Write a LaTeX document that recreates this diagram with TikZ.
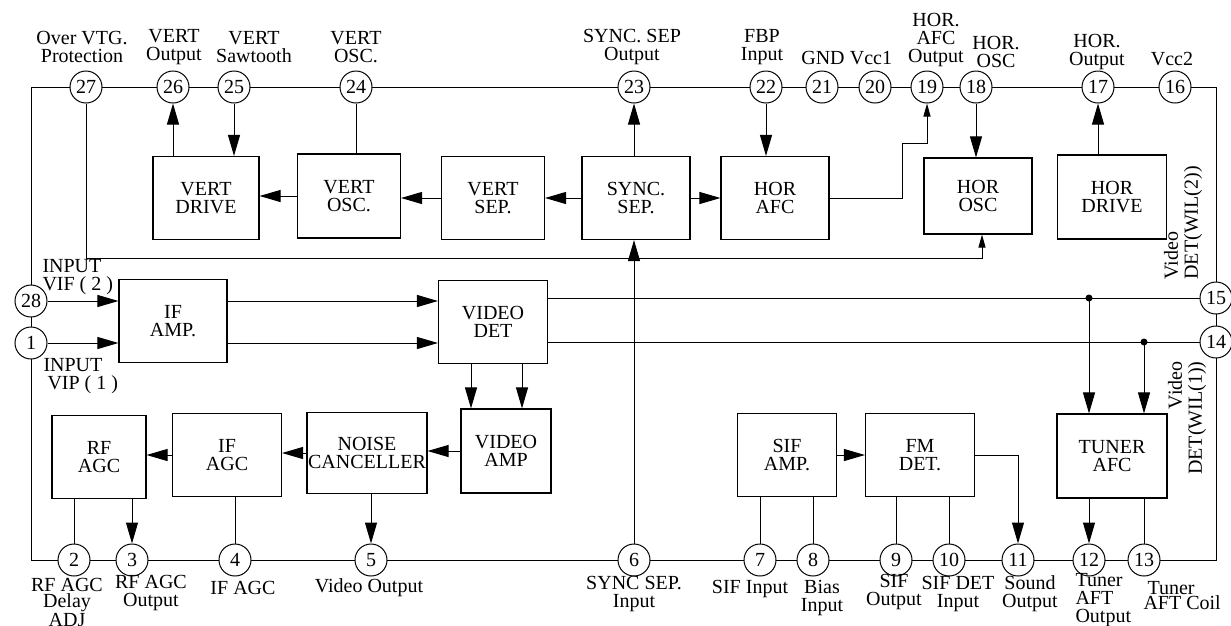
\documentclass[tikz,border=0pt]{standalone}
\usepackage{fontspec}
\setmainfont{Liberation Serif}
\usetikzlibrary{arrows.meta, positioning}

\begin{document}
\begin{tikzpicture}[
    x=1pt, y=-1pt,
    font=\fontsize{20}{18}\selectfont,
    line width=1pt,
    block/.style={
        draw,
        line width=1.1pt,
        align=center,
        minimum width=108pt,
        minimum height=83pt,
        inner sep=0pt
    },
    icpin/.style={
        draw,
        circle,
        fill=white,
        minimum size=32pt,
        inner sep=0pt
    },
    pintext/.style={
        align=center,
        inner sep=0pt
    },
    sidetext/.style={
        rotate=90,
        inner sep=0pt,
        font=\fontsize{20}{20}\selectfont
    },
    thinarrow/.style={-{Triangle[length=13pt,width=7pt]}},
    >={Triangle[length=21pt,width=12pt]}
]

\useasboundingbox (0,0) rectangle (1231,625);

\coordinate (frametl) at (31,87);
\coordinate (framebr) at (1216,560);
\draw (frametl) rectangle (framebr);

% pins
\node[icpin] (pin27) at (86,87) {27};
\node[icpin] (pin26) at (173,87) {26};
\node[icpin] (pin25) at (234,87) {25};
\node[icpin] (pin24) at (356,87) {24};
\node[icpin] (pin23) at (634,87) {23};
\node[icpin] (pin22) at (766,87) {22};
\node[icpin] (pin21) at (822,87) {21};
\node[icpin] (pin20) at (875,87) {20};
\node[icpin] (pin19) at (927,87) {19};
\node[icpin] (pin18) at (976,87) {18};
\node[icpin] (pin17) at (1098,87) {17};
\node[icpin] (pin16) at (1175,87) {16};
\node[icpin] (pin28) at (31,301) {28};
\node[icpin] (pin1) at (31,343) {1};
\node[icpin] (pin15) at (1216,298) {15};
\node[icpin] (pin14) at (1216,342) {14};
\node[icpin] (pin2) at (74,560) {2};
\node[icpin] (pin3) at (132,560) {3};
\node[icpin] (pin4) at (235,560) {4};
\node[icpin] (pin5) at (371,560) {5};
\node[icpin] (pin6) at (634,560) {6};
\node[icpin] (pin7) at (760,560) {7};
\node[icpin] (pin8) at (813,560) {8};
\node[icpin] (pin9) at (896,560) {9};
\node[icpin] (pin10) at (949,560) {10};
\node[icpin] (pin11) at (1018,560) {11};
\node[icpin] (pin12) at (1089,560) {12};
\node[icpin] (pin13) at (1144,560) {13};

% pin texts
\node[pintext] at (82,47) {Over VTG.\\Protection};
\node[pintext] at (174,47) {VERT\\Output};
\node[pintext] at (254,47) {VERT\\Sawtooth};
\node[pintext] at (356,47) {VERT\\OSC.};
\node[pintext] at (632,47) {SYNC. SEP\\Output};
\node[pintext] at (762,47) {FBP\\Input};
\node[pintext] at (823,58) {GND};
\node[pintext] at (871,58) {Vcc1};
\node[pintext] at (936,40) {HOR.\\AFC\\Output};
\node[pintext] at (996,52) {HOR.\\OSC};
\node[pintext] at (1097,52) {HOR.\\Output};
\node[pintext] at (1172,59) {Vcc2};
\node[pintext, align=left, anchor=west] at (42,277) {INPUT\\VIF ( 2 )};
\node[pintext, align=left, anchor=west] at (43,376) {INPUT\\\hspace*{4pt}VIP ( 1 )};
\node[sidetext, align=left, anchor=west] at (1183,280) {Video\\DET(WIL(2))};
\node[sidetext, align=right, anchor=east] at (1187,361) {Video\\DET(WIL(1))};
\node[pintext, font=\fontsize{20}{16}\selectfont, anchor=north] at (67,578) {RF AGC\\Delay\\ADJ};
\node[pintext, anchor=north] at (151,575) {RF AGC\\Output};
\node[pintext] at (243,588) {IF AGC};
\node[pintext] at (369,588) {Video Output};
\node[pintext, anchor=north] at (634,576) {SYNC SEP.\\Input};
\node[pintext] at (750,589) {SIF Input};
\node[pintext, anchor=north] at (822,580) {Bias\\Input};
\node[pintext, anchor=north] at (894,574) {SIF\\Output};
\node[pintext, anchor=north] at (958,576) {SIF DET\\Input};
\node[pintext, anchor=north] at (1030,575) {Sound\\Output};
\node[pintext, align=left, anchor=north west] at (1075,573) {Tuner\\AFT\\Output};
\node[pintext, align=left, anchor=north west, font=\fontsize{20}{15}\selectfont] at (1143,581) {\hspace*{4pt}Tuner\\AFT Coil};

% blocks
\node[block, minimum width=106pt] (vdrive) at (206,198) {VERT\\DRIVE};
\node[block, minimum width=103pt, minimum height=84pt] (vosc) at (349,196) {VERT\\OSC.};
\node[block, minimum width=103pt] (vsep) at (493,198) {VERT\\SEP.};
\node[block] (sync) at (636,198) {SYNC.\\SEP.};
\node[block] (hafc) at (775,198) {HOR\\AFC};
\node[block, minimum height=76pt] (hosc) at (978,196) {HOR\\OSC};
\node[block, minimum width=109pt, minimum height=84pt] (hdrive) at (1112,197) {HOR\\DRIVE};
\node[block] (ifamp) at (173,321) {IF\\AMP.};
\node[block, minimum width=109pt] (vdet) at (493,322) {VIDEO\\DET};
\node[block, minimum width=90pt, minimum height=84pt] (vamp) at (506,451) {VIDEO\\AMP};
\node[block, minimum width=94pt] (rfagc) at (99,457) {RF\\AGC};
\node[block, minimum width=109pt] (ifagc) at (227,455) {IF\\AGC};
\node[block, minimum width=120pt, minimum height=81pt] (noise) at (367,453) {NOISE\\CANCELLER};
\node[block, minimum width=99pt] (sifamp) at (787,455) {SIF\\AMP.};
\node[block, minimum width=109pt] (fmdet) at (920,455) {FM\\DET.};
\node[block, minimum width=110pt, minimum height=84pt] (tafc) at (1112,456) {TUNER\\AFC};

% vertical section
\draw[->] (pin26 |- vdrive.north) -- (pin26);
\draw[->] (pin25) -- (pin25 |- vdrive.north);
\draw (pin24) -- (pin24 |- vosc.north);
\draw[->] (vosc.west) -- (vosc.west -| vdrive.east);
\draw[->] (vsep.west) -- (vsep.west -| vosc.east);
\draw[->] (sync.west) -- (sync.west -| vsep.east);
\draw[->] (sync.east) -- (sync.east -| hafc.west);
\draw[->] (pin23 |- sync.north) -- (pin23);
\draw[->] (pin22) -- (pin22 |- hafc.north);
\coordinate (afcbend) at (902,143);
\draw[thinarrow] (hafc.east) -| (afcbend) -| (pin19);
\draw[->] (pin18) -- (pin18 |- hosc.north);
\draw[->] (pin17 |- hdrive.north) -- (pin17);
\coordinate (protbend) at (982,258);
\draw[thinarrow] (pin27) |- (protbend) -- (protbend |- hosc.south);

% video IF section
\draw[->] (pin28) -- (pin28 -| ifamp.west);
\draw[->] (pin1) -- (pin1 -| ifamp.west);
\draw[->] (ifamp.east |- pin28) -- (vdet.west |- pin28);
\draw[->] (ifamp.east |- pin1) -- (vdet.west |- pin1);
\draw (vdet.east |- pin15) -- (pin15);
\draw (vdet.east |- pin14) -- (pin14);
\coordinate (tap15) at (pin12 |- pin15);
\coordinate (tap14) at (pin13 |- pin14);
\fill (tap15) circle (3.5);
\fill (tap14) circle (3.5);
\draw[->] (tap15) -- (tap15 |- tafc.north);
\draw[->] (tap14) -- (tap14 |- tafc.north);
\draw[->] ([xshift=-22pt]vdet.south) -- ([xshift=-22pt]vdet.south |- vamp.north);
\draw[->] ([xshift=29pt]vdet.south) -- ([xshift=29pt]vdet.south |- vamp.north);
\draw[->] (vamp.west) -- (vamp.west -| noise.east);
\draw[->] (noise.west) -- (noise.west -| ifagc.east);
\draw[->] (ifagc.west) -- (ifagc.west -| rfagc.east);
\draw (pin2 |- rfagc.south) -- (pin2);
\draw[->] (pin3 |- rfagc.south) -- (pin3);
\draw (pin4 |- ifagc.south) -- (pin4);
\draw[->] (pin5 |- noise.south) -- (pin5);
\draw[->] (pin6) -- (pin6 |- sync.south);

% sound section
\draw (pin7) -- (pin7 |- sifamp.south);
\draw (pin8) -- (pin8 |- sifamp.south);
\draw[->] (sifamp.east) -- (sifamp.east -| fmdet.west);
\draw (pin9) -- (pin9 |- fmdet.south);
\draw (pin10) -- (pin10 |- fmdet.south);
\draw[->] (fmdet.east) -| (pin11);
\draw[->] (pin12 |- tafc.south) -- (pin12);
\draw (pin13) -- (pin13 |- tafc.south);

\end{tikzpicture}
\end{document}
